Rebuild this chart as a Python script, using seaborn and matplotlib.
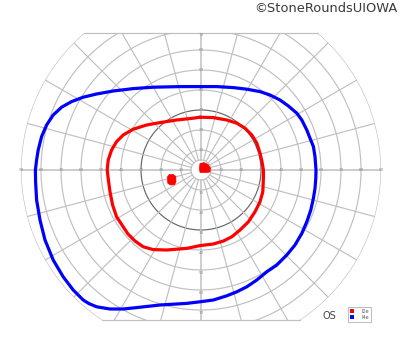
import numpy as np
import pandas as pd
import matplotlib
matplotlib.use("Agg")
import matplotlib.pyplot as plt
import seaborn as sns
from matplotlib.patches import Patch, Polygon

# ---------------- data (degrees of visual field: x = horizontal, y = vertical) ----------------
# I4e isopter, clockwise from the top
i4e_x = [-0.5, 7.9, 16.2, 22.9, 29.5, 34.5, 39.5, 43.7, 47.9, 50.4, 52.9, 54.5, 56.2,
         57.0, 57.5, 57.4, 57.0, 56.2, 54.9, 52.9, 50.4, 47.0, 42.9, 37.9, 32.9, 27.9,
         22.9, 17.9, 12.9, 6.2, -0.5, -7.2, -20.5, -32.2, -38.9, -45.5, -52.2, -56.0,
         -58.9, -63.9, -68.9, -73.9, -78.0, -80.5, -82.2, -82.7, -82.8, -82.2, -81.4,
         -79.7, -77.2, -73.9, -69.7, -64.7, -58.9, -52.2, -43.9, -33.9, -23.9, -10.5]
i4e_y = [41.7, 41.7, 41.2, 40.4, 39.2, 37.5, 35.0, 32.0, 28.4, 25.0, 20.0, 15.9, 11.7,
         6.7, 0.0, -4.2, -9.2, -14.2, -20.0, -25.9, -31.7, -37.5, -42.5, -47.5, -50.9,
         -55.0, -58.4, -60.9, -62.9, -65.0, -65.9, -66.7, -67.5, -68.8, -69.5, -69.5,
         -68.4, -66.8, -65.0, -60.0, -53.4, -45.0, -35.0, -25.0, -15.0, -5.9, 0.0, 5.0,
         10.0, 16.7, 22.5, 27.5, 31.4, 34.2, 36.4, 38.0, 39.5, 40.7, 41.4, 41.7]

# I2e isopter, clockwise from the top
i2e_x = [-0.5, 6.2, 12.9, 17.9, 22.0, 25.4, 27.9, 29.5, 30.5, 31.2, 31.2, 30.9, 29.5,
         27.0, 23.7, 19.5, 15.4, 11.2, 6.2, -0.5, -7.2, -17.2, -23.9, -28.9, -33.0,
         -36.5, -38.9, -42.2, -44.2, -45.5, -46.4, -46.9, -46.4, -44.7, -42.2, -38.9,
         -33.9, -27.2, -20.5, -12.2, -3.9]
i2e_y = [26.4, 26.2, 25.0, 23.4, 20.9, 17.5, 13.4, 8.4, 4.2, 0.0, -4.2, -10.9, -15.9,
         -20.9, -25.9, -30.0, -33.4, -35.5, -37.0, -37.8, -39.2, -40.0, -39.8, -38.4,
         -35.5, -32.0, -28.4, -23.4, -17.5, -10.9, -4.2, 0.0, 5.0, 10.0, 14.2, 17.5,
         20.4, 22.5, 23.7, 25.0, 25.9]

# I2e scotomas (outline x / y in degrees)
central_x = [-0.5, 1.5, 3.5, 4.7, 4.5, 2.0, -0.5, -0.8]
central_y = [3.2, 3.7, 2.8, 1.0, -1.0, -1.3, -1.2, 1.0]
blind_x = [-15.8, -13.8, -12.6, -12.5, -13.2, -15.2, -16.6, -16.8]
blind_y = [-2.2, -2.3, -3.2, -5.8, -7.4, -7.5, -6.6, -3.4]

circle_deg = [5, 10, 20, 30, 40, 50, 60, 70, 80, 90]
meridian_deg = list(range(0, 360, 15))
h_labels = [10, 20, 30, 40, 50, 60, 70, 80, 90]
v_labels = [10, 20, 30, 40, 50, 60, 70]
legend_labels = ["I2e", "I4e"]
eye_label = "OS"
watermark = "\u00a9StoneRoundsUIOWA"

TOP, BOTTOM = 68.5, -75.0

# ---------------- figure ----------------
sns.set_style("white")
plt.rcParams["font.family"] = ["DejaVu Sans"]
fig = plt.figure(figsize=(4.0, 3.52), dpi=100)
ax = fig.add_axes([0, 0, 1, 1])

# clip region: circle 90 intersected with horizontal band
t = np.linspace(0, 2 * np.pi, 721)
cx, cy = 90 * np.cos(t), 90 * np.sin(t)
clip = Polygon(np.column_stack([cx, np.clip(cy, BOTTOM, TOP)]), closed=True,
               transform=ax.transData, facecolor="none", edgecolor="none")
ax.add_patch(clip)

grid_col = "#c0c0c0"
for r in circle_deg:
    col = "#666666" if r == 30 else grid_col
    ln, = ax.plot(r * np.cos(t), r * np.sin(t), color=col, lw=0.85, zorder=1)
    ln.set_clip_path(clip)
for m in meridian_deg:
    a = np.deg2rad(m)
    lw = 1.1 if m % 90 == 0 else 0.85
    ln, = ax.plot([5 * np.cos(a), 90 * np.cos(a)], [5 * np.sin(a), 90 * np.sin(a)],
                  color=grid_col, lw=lw, zorder=1)
    ln.set_clip_path(clip)
for yb in (TOP, BOTTOM):
    hw = np.sqrt(90 ** 2 - yb ** 2)
    ax.plot([-hw, hw], [yb, yb], color=grid_col, lw=0.9, zorder=1)

lab_kw = dict(fontsize=3.0, color="#8c8c8c", ha="center", va="center", zorder=2)
for r in h_labels:
    ax.text(r, 0, str(r), **lab_kw)
    ax.text(-r, 0, str(r), **lab_kw)
for r in v_labels:
    ax.text(0, min(r, 67.5), str(r), **lab_kw)
    ax.text(0, -r - 1.5, str(r), **lab_kw)

# ---------------- isopters ----------------
def closed_df(xs, ys, name):
    x = np.array(xs + [xs[0]], dtype=float)
    y = np.array(ys + [ys[0]], dtype=float)
    return pd.DataFrame({"x": x, "y": y, "stim": name})

df4 = closed_df(i4e_x, i4e_y, "I4e")
df2 = closed_df(i2e_x, i2e_y, "I2e")
sns.lineplot(data=df4, x="x", y="y", sort=False, estimator=None, color="#0000ff",
             lw=2.3, ax=ax, zorder=4, solid_joinstyle="round", solid_capstyle="round")
sns.lineplot(data=df2, x="x", y="y", sort=False, estimator=None, color="#ff0000",
             lw=2.3, ax=ax, zorder=4, solid_joinstyle="round", solid_capstyle="round")
ax.fill(central_x, central_y, color="#ff0000", zorder=5, lw=0.5, ec="#ff0000")
ax.fill(blind_x, blind_y, color="#ff0000", zorder=5, lw=0.5, ec="#ff0000")
ax.set_xlim(-100.5, 99.5)
ax.set_ylim(-91, 85)
ax.axis("off")

# ---------------- legend & texts ----------------
handles = [Patch(facecolor="#ff0000", edgecolor="none"),
           Patch(facecolor="#0000ff", edgecolor="none")]
leg = fig.legend(handles, legend_labels, loc="upper left",
                 bbox_to_anchor=(345.5 / 400, 1 - 305 / 352), fontsize=3.5,
                 handlelength=0.9, handleheight=0.9, handletextpad=1.5,
                 borderpad=0.35, labelspacing=0.15, fancybox=False,
                 framealpha=1, edgecolor="#b0b0b0")
leg.get_frame().set_linewidth(0.6)
for txt in leg.get_texts():
    txt.set_color("#555555")

fig.text(329 / 400, 1 - 316 / 352, eye_label, fontsize=7, color="#444444",
         ha="center", va="center")
fig.text(398 / 400, 1 - 8 / 352, watermark, fontsize=9.4, color="#3a3a3a",
         ha="right", va="center")

fig.savefig("out.png", dpi=100)
